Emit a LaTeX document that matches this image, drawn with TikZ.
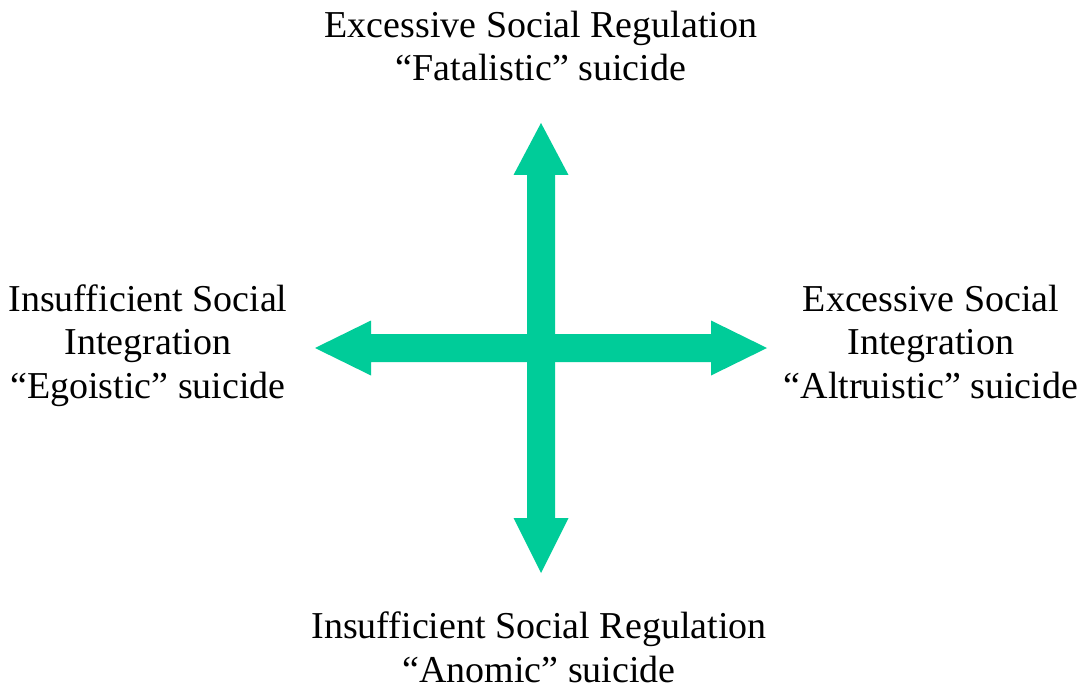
\documentclass[tikz,border=0pt]{standalone}
\usepackage{fontspec}
\setmainfont{Liberation Serif}
\definecolor{arrowgreen}{RGB}{0,204,153}
\begin{document}
\begin{tikzpicture}[x=1pt,y=-1pt,
  lbl/.style={align=center,inner sep=0pt,anchor=base,font=\fontsize{38}{43.5}\selectfont},
  bigarrow/.style={fill=arrowgreen,draw=none}]
\useasboundingbox[fill=white] (0,0) rectangle (1086,695);
% centre
\coordinate (c) at (541,348);
% horizontal double arrow
\fill[bigarrow] (315,348) -- (371,320.5) -- (371,334) -- (711,334) -- (711,320.5) -- (767,348)
  -- (711,375.5) -- (711,362) -- (371,362) -- (371,375.5) -- cycle;
% vertical double arrow
\fill[bigarrow] (541,123) -- (568.5,175) -- (555,175) -- (555,518) -- (568.5,518) -- (541,573)
  -- (513.5,518) -- (527,518) -- (527,175) -- (513.5,175) -- cycle;
\node[lbl] (top) at (541,81) {Excessive Social Regulation\\“Fatalistic” suicide};
\node[lbl] (left) at (148,398) {Insufficient Social\\Integration\\“Egoistic” suicide};
\node[lbl] (right) at (931,398) {Excessive Social\\Integration\\“Altruistic” suicide};
\node[lbl] (bottom) at (539,682) {Insufficient Social Regulation\\“Anomic” suicide};
\end{tikzpicture}
\end{document}
